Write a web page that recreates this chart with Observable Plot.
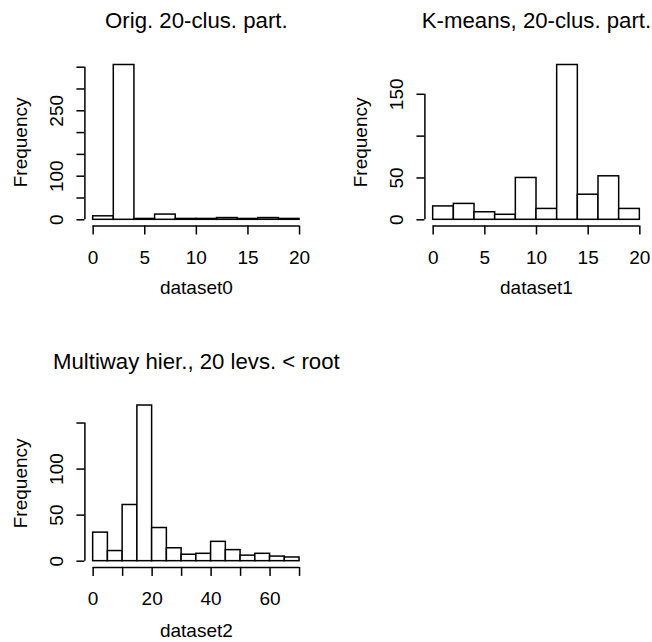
<!DOCTYPE html>
<html><head><meta charset="utf-8">
<script src="https://cdn.jsdelivr.net/npm/d3@7"></script>
<script src="https://cdn.jsdelivr.net/npm/@observablehq/plot@0.6"></script>
<style>
body{margin:0;background:#fff;}
#wrap{position:relative;width:652px;height:642px;background:#fff;overflow:hidden;}
#wrap svg{position:absolute;overflow:visible;}
</style></head><body><div id="wrap"></div>
<script>
// ---- data ----
const titles = ["Orig. 20-clus. part.", "K-means, 20-clus. part.", "Multiway hier., 20 levs. < root"];
const xNames = ["dataset0", "dataset1", "dataset2"];
const yName = "Frequency";

const breaks0 = [0, 2, 4, 6, 8, 10, 12, 14, 16, 18, 20];
const counts0 = [8, 355, 2, 12, 2, 2, 4, 2, 4, 2];
const breaks1 = [0, 2, 4, 6, 8, 10, 12, 14, 16, 18, 20];
const counts1 = [16, 19, 9, 6, 50, 13, 185, 30, 52, 13];
const breaks2 = [0, 5, 10, 15, 20, 25, 30, 35, 40, 45, 50, 55, 60, 65, 70];
const counts2 = [31, 11, 61, 169, 36, 14, 7, 8, 21, 12, 6, 8, 5, 4];

const xTicks0 = [0, 5, 10, 15, 20];
const xTickLabels0 = [0, 5, 10, 15, 20];
const xTicks1 = [0, 5, 10, 15, 20];
const xTickLabels1 = [0, 5, 10, 15, 20];
const xTicks2 = [0, 10, 20, 30, 40, 50, 60, 70];
const xTickLabels2 = [0, 20, 40, 60];

const yTicks0 = [0, 50, 100, 150, 200, 250, 300, 350];
const yTickLabels0 = [0, 100, 250];
const yTicks1 = [0, 50, 100, 150];
const yTickLabels1 = [0, 50, 150];
const yTicks2 = [0, 50, 100, 150];
const yTickLabels2 = [0, 50, 100];

// ---- layout ----
const FONT = "'Liberation Sans', Arial, Helvetica, sans-serif";
const SW = 1.5;

function panel(d, lay) {
  const bins = d.counts.map((c, i) => ({x1: d.breaks[i], x2: d.breaks[i + 1], n: c}));
  const lo = d.breaks[0], hi = d.breaks[d.breaks.length - 1], px = 0.04 * (hi - lo);
  const ymax = d3.max(d.counts), py = 0.04 * ymax;
  const svg = Plot.plot({
    width: 326, height: 321,
    marginLeft: lay.mL, marginRight: lay.mR, marginTop: lay.mT, marginBottom: lay.mB,
    x: {domain: [lo - px, hi + px]},
    y: {domain: [-py, ymax + py]},
    style: {fontFamily: FONT, fontSize: "19px", color: "black", background: "transparent", overflow: "visible"},
    marks: [
      Plot.rectY(bins, {x1: "x1", x2: "x2", y1: 0, y2: "n", fill: "white", stroke: "black", strokeWidth: SW, inset: 0}),
      Plot.ruleY([-py], {x1: d.xTicks[0], x2: d.xTicks[d.xTicks.length - 1], stroke: "black", strokeWidth: SW}),
      Plot.ruleX([lo - px], {y1: d.yTicks[0], y2: d.yTicks[d.yTicks.length - 1], stroke: "black", strokeWidth: SW}),
      Plot.axisX(d.xTicks, {tickSize: 9, tickPadding: 15, fontSize: 19, strokeWidth: SW, label: null,
        tickFormat: v => d.xTickLabels.includes(v) ? String(v) : ""}),
      Plot.axisY(d.yTicks, {tickSize: 8, strokeWidth: SW, label: null, tickFormat: () => ""}),
      Plot.text(d.yTickLabels, {y: v => v, text: v => String(v), frameAnchor: "left", rotate: -90,
        textAnchor: "middle", lineAnchor: "bottom", dx: -21.5, fontSize: 19, fill: "black"}),
      Plot.text([d.title], {text: v => v, frameAnchor: "top", textAnchor: "middle", lineAnchor: "bottom", dy: -30.5, fontSize: 22.2, fill: "black"}),
      Plot.text([d.xName], {text: v => v, frameAnchor: "bottom", textAnchor: "middle", lineAnchor: "bottom", dy: lay.xlabDy, fontSize: 19, fill: "black"}),
      Plot.text([yName], {text: v => v, frameAnchor: "left", rotate: -90, textAnchor: "middle", lineAnchor: "bottom", dx: -58, fontSize: 19, fill: "black"})
    ]
  });
  svg.style.left = lay.left + "px";
  svg.style.top = lay.top + "px";
  document.getElementById("wrap").appendChild(svg);
}

panel({title: titles[0], xName: xNames[0], breaks: breaks0, counts: counts0, xTicks: xTicks0, xTickLabels: xTickLabels0, yTicks: yTicks0, yTickLabels: yTickLabels0},
      {left: 0, top: 0, mL: 84.4, mR: 18.7, mT: 58.3, mB: 95.5, xlabDy: 68});
panel({title: titles[1], xName: xNames[1], breaks: breaks1, counts: counts1, xTicks: xTicks1, xTickLabels: xTickLabels1, yTicks: yTicks1, yTickLabels: yTickLabels1},
      {left: 326, top: 0, mL: 98.4, mR: 4.4, mT: 58.3, mB: 95.5, xlabDy: 68});
panel({title: titles[2], xName: xNames[2], breaks: breaks2, counts: counts2, xTicks: xTicks2, xTickLabels: xTickLabels2, yTicks: yTicks2, yTickLabels: yTickLabels2},
      {left: 0, top: 321, mL: 84.4, mR: 18.7, mT: 77.8, mB: 75.1, xlabDy: 70});
</script></body></html>
